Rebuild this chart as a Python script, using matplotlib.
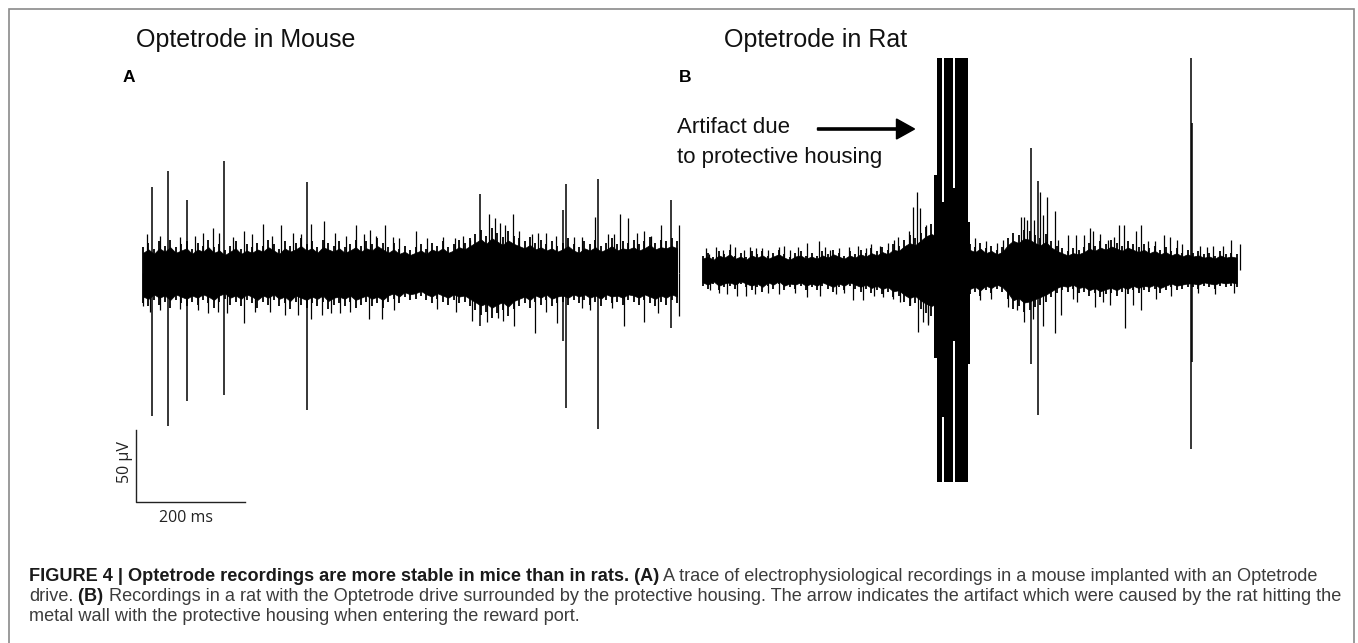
import matplotlib
matplotlib.use("Agg")
import matplotlib.pyplot as plt
from matplotlib.patches import Rectangle, FancyArrow
from matplotlib.transforms import IdentityTransform

W, H = 1358, 643

# ---- Mouse trace (time in ms, amplitude in µV) ----
# edge of the dense noise band, read every 10 ms
mouse_env_t = list(range(0, 990, 10))
mouse_env_hi = [18, 21, 17, 22, 19, 23, 18, 20, 22, 17,
                21, 19, 23, 18, 20, 16, 19, 22, 17, 20,
                18, 21, 19, 23, 20, 17, 22, 19, 21, 24,
                20, 22, 18, 23, 21, 19, 22, 18, 20, 23,
                19, 22, 20, 24, 21, 18, 21, 17, 19, 16,
                18, 20, 17, 21, 19, 22, 18, 20, 23, 21,
                24, 27, 30, 26, 31, 28, 25, 29, 26, 24,
                22, 25, 21, 23, 20, 22, 19, 21, 24, 20,
                18, 22, 20, 23, 19, 21, 24, 20, 22, 21,
                23, 20, 22, 25, 21, 23, 22, 24, 22]
mouse_env_lo = [-21, -23, -19, -22, -20, -24, -19, -21, -23, -20,
                -22, -19, -21, -24, -20, -18, -22, -20, -23, -19,
                -21, -24, -20, -22, -19, -23, -21, -25, -20, -22,
                -24, -21, -23, -20, -25, -22, -21, -23, -20, -24,
                -22, -20, -23, -21, -24, -20, -18, -21, -17, -19,
                -18, -16, -19, -21, -18, -20, -22, -19, -21, -20,
                -23, -26, -29, -27, -31, -28, -26, -30, -25, -23,
                -21, -24, -20, -22, -19, -23, -21, -20, -22, -19,
                -21, -19, -22, -20, -23, -19, -21, -20, -22, -19,
                -20, -22, -19, -21, -23, -20, -22, -19, -21]

mouse_spike_t = [17, 46, 81, 149, 300, 618, 771, 777, 835, 968]
mouse_spike_hi = [60, 71, 51, 78, 63, 55, 44, 62, 65, 51]
mouse_spike_lo = [-99, -106, -89, -85, -95, -37, -47, -94, -108, -38]

mouse_up_t = [31, 67, 129, 140, 185, 221, 254, 309, 333, 391, 417, 444, 470, 501,
              550, 572, 600, 634, 646, 655, 678, 689, 713, 739, 758, 805, 829, 854,
              875, 889, 906, 933, 950, 983, 8, 95, 110, 165, 200, 236, 276, 290,
              352, 372, 405, 428, 458, 522, 588, 665, 725, 790, 865, 920]
mouse_up_v = [26, 25, 31, 28, 29, 34, 33, 34, 36, 33, 30, 33, 24, 29,
              25, 24, 23, 41, 38, 35, 41, 29, 27, 28, 26, 25, 39, 27,
              41, 38, 28, 26, 33, 33, 27, 26, 28, 25, 27, 26, 28, 27,
              28, 26, 27, 26, 25, 24, 26, 33, 28, 25, 27, 29]
mouse_dn_t = [0, 31, 67, 138, 154, 186, 233, 285, 309, 328, 361, 415, 439,
              603, 632, 652, 681, 719, 759, 805, 860, 883, 919, 983,
              12, 100, 120, 205, 260, 345, 380, 460, 540, 575, 660, 740, 820, 945]
mouse_dn_v = [-23, -26, -25, -27, -28, -35, -27, -29, -32, -29, -28, -32, -32,
              -33, -34, -31, -37, -42, -35, -24, -24, -37, -34, -30,
              -27, -26, -28, -27, -29, -28, -27, -26, -25, -27, -33, -27, -26, -28]

# ---- Rat trace (time in ms, amplitude in µV) ----
rat_env_t = list(range(0, 990, 10))
rat_env_hi = [10, 12, 9, 13, 11, 14, 10, 12, 9, 13,
              11, 13, 10, 12, 14, 11, 9, 12, 13, 10,
              12, 10, 13, 11, 14, 12, 10, 13, 11, 14,
              12, 15, 13, 16, 14, 18, 17, 21, 24, 22,
              26, 30, 32, 30, 30, 30, 30, 30, 30, 18,
              16, 19, 15, 17, 14, 16, 22, 26, 24, 28,
              27, 24, 22, 25, 20, 17, 15, 13, 15, 14,
              16, 19, 17, 20, 18, 21, 19, 17, 20, 18,
              16, 18, 15, 17, 14, 16, 13, 15, 12, 14,
              12, 13, 11, 12, 10, 13, 11, 12, 11]
rat_env_lo = [-11, -13, -10, -14, -12, -11, -13, -10, -12, -14,
              -12, -15, -11, -13, -10, -14, -12, -13, -11, -14,
              -12, -14, -11, -13, -15, -12, -14, -11, -13, -15,
              -13, -16, -14, -17, -15, -19, -18, -22, -25, -23,
              -27, -30, -32, -30, -30, -30, -30, -30, -30, -17,
              -15, -18, -14, -16, -13, -15, -20, -27, -25, -29,
              -28, -26, -24, -22, -19, -16, -14, -15, -13, -16,
              -15, -18, -16, -19, -17, -16, -18, -15, -17, -14,
              -16, -14, -15, -13, -16, -14, -12, -14, -13, -12,
              -12, -13, -11, -12, -13, -11, -12, -11, -12]

rat_spike_t = [603, 616, 896, 898]
rat_spike_hi = [85, 62, 147, 102]
rat_spike_lo = [-65, -101, -124, -64]

rat_up_t = [12, 25, 38, 50, 60, 77, 99, 121, 141, 161, 191, 214, 234, 268, 300,
            310, 351, 359, 378, 387, 393, 399, 411, 552, 570, 584, 589, 595, 609,
            620, 625, 633, 646, 653, 671, 685, 711, 717, 730, 744, 765, 774, 795,
            804, 818, 846, 858, 870, 913, 937, 970, 986, 6, 88, 110, 150, 176, 225,
            250, 285, 325, 340, 500, 520, 540, 700, 755, 830, 880, 925, 955]
rat_up_v = [11, 16, 14, 18, 16, 14, 15, 14, 16, 14, 19, 20, 14, 16, 15,
            18, 21, 23, 27, 44, 54, 43, 31, 21, 20, 37, 37, 35, 35,
            54, 38, 51, 41, 21, 24, 24, 29, 27, 25, 21, 31, 31, 27,
            31, 20, 24, 23, 21, 17, 17, 21, 18, 15, 16, 15, 17, 16, 16,
            15, 17, 17, 19, 22, 20, 19, 24, 23, 20, 18, 16, 17]
rat_dn_t = [14, 63, 96, 191, 277, 295, 331, 362, 381, 395, 405, 413, 414,
            577, 607, 625, 646, 658, 687, 720, 747, 775, 790, 804, 833,
            30, 45, 80, 120, 140, 170, 215, 245, 260, 315, 350, 510, 530,
            560, 590, 680, 735, 860, 910, 940, 975]
rat_dn_v = [-14, -18, -17, -19, -21, -21, -19, -22, -24, -43, -36, -38, -37,
            -28, -34, -39, -44, -31, -22, -26, -24, -40, -24, -28, -20,
            -16, -17, -18, -16, -17, -16, -18, -17, -16, -18, -20, -21, -20,
            -26, -36, -20, -22, -18, -16, -17, -16]

# artifact from the protective housing
artifact_start = [430, 444, 463]
artifact_end = [439, 459, 487]
artifact_amp = [147, 147, 147]
artifact_fill_start = [425, 439, 459, 487]
artifact_fill_end = [430, 444, 463, 490]
artifact_fill_hi = [66, 47, 57, 33]
artifact_fill_lo = [-61, -102, -49, -65]

# scale bar
bar_ms = 200
bar_uv = 50

caption_lines = [
    [("FIGURE 4 | Optetrode recordings are more stable in mice than in rats. (A)", "bold"),
     (" A trace of electrophysiological recordings in a mouse implanted with an Optetrode", "normal")],
    [("drive.", "normal"), (" (B)", "bold"),
     (" Recordings in a rat with the Optetrode drive surrounded by the protective housing. "
      "The arrow indicates the artifact which were caused by the rat hitting the", "normal")],
    [("metal wall with the protective housing when entering the reward port.", "normal")],
]

plt.rcParams["font.family"] = ["Liberation Sans", "DejaVu Sans"]
fig = plt.figure(figsize=(W / 100, H / 100), dpi=100)
fig.patch.set_facecolor("white")


def px(x, y):
    return x / W, 1 - y / H


def trace_axes(x0, y0, ms_px, uv_px, box):
    # box in image pixels (left, top, right, bottom); x0/y0 = pixel of t=0, v=0
    l, t, r, b = box
    ax = fig.add_axes([l / W, 1 - b / H, (r - l) / W, (b - t) / H])
    ax.set_xlim((l - x0) / ms_px, (r - x0) / ms_px)
    ax.set_ylim((y0 - b) / uv_px, (y0 - t) / uv_px)
    ax.axis("off")
    ax.patch.set_alpha(0)
    return ax


def draw_trace(ax, env_t, hi, lo, sp_t, sp_hi, sp_lo, up_t, up_v, dn_t, dn_v):
    # solid core of the noise band, then the band edge as thin strokes
    ax.fill_between(env_t, [0.78 * v for v in lo], [0.78 * v for v in hi],
                    color="black", lw=0.5)
    ax.vlines(env_t, lo, hi, color="black", lw=1.3)
    ax.vlines(sp_t, sp_lo, sp_hi, color="black", lw=1.1)
    ax.vlines(up_t, 0, up_v, color="black", lw=0.9)
    ax.vlines(dn_t, dn_v, 0, color="black", lw=0.9)


MS_PX, UV_PX = 0.545, 1.44

ax_m = trace_axes(143, 273, MS_PX, UV_PX, (100, 150, 690, 545))
draw_trace(ax_m, mouse_env_t, mouse_env_hi, mouse_env_lo, mouse_spike_t, mouse_spike_hi,
           mouse_spike_lo, mouse_up_t, mouse_up_v, mouse_dn_t, mouse_dn_v)

# scale bar
sb_x, sb_y = -13, -159
ax_m.plot([sb_x, sb_x, sb_x + bar_ms], [sb_y + bar_uv, sb_y, sb_y], color="#222222", lw=1.0)

ax_r = trace_axes(702.5, 270, MS_PX, UV_PX, (692, 40, 1300, 500))
draw_trace(ax_r, rat_env_t, rat_env_hi, rat_env_lo, rat_spike_t, rat_spike_hi,
           rat_spike_lo, rat_up_t, rat_up_v, rat_dn_t, rat_dn_v)
for s, e, a in zip(artifact_start, artifact_end, artifact_amp):
    ax_r.fill_between([s, e], [-a, -a], [a, a], color="black", lw=0)
for s, e, h, l in zip(artifact_fill_start, artifact_fill_end, artifact_fill_hi, artifact_fill_lo):
    ax_r.fill_between([s, e], [l, l], [h, h], color="black", lw=0)

# titles and panel labels
fig.text(*px(136, 46.7), "Optetrode in Mouse", fontsize=18, color="#111111", va="baseline")
fig.text(*px(724.5, 46.7), "Optetrode in Rat", fontsize=18, color="#111111", va="baseline")
fig.text(*px(123, 81.7), "A", fontsize=12.5, fontweight="bold", va="baseline")
fig.text(*px(679, 81.7), "B", fontsize=12.5, fontweight="bold", va="baseline")
fig.text(*px(677, 133.3), "Artifact due", fontsize=16, color="#111111", va="baseline")
fig.text(*px(677, 163.3), "to protective housing", fontsize=16, color="#111111", va="baseline")
fig.add_artist(FancyArrow(*px(817.5, 129), 97 / W, 0, width=2.2 / H,
                          head_width=20 / H, head_length=18 / W,
                          length_includes_head=True, color="black",
                          transform=fig.transFigure))

fig.text(*px(125, 462), "50 µV", fontsize=11.5, rotation=90, ha="center", va="center",
         family=["Open Sans", "DejaVu Sans"], color="#222222")
fig.text(*px(186, 518), "200 ms", fontsize=11.5, ha="center", va="center",
         family=["Open Sans", "DejaVu Sans"], color="#222222")

# outer frame (bottom edge runs off the image)
fig.add_artist(Rectangle(px(8.5, 660), (1354 - 8.5) / W, (660 - 9) / H, fill=False,
                         edgecolor="#8a8a8a", lw=1.2, transform=fig.transFigure))

# caption with mixed bold / regular runs
fig.canvas.draw()
renderer = fig.canvas.get_renderer()
baselines = [581, 601, 621]
for line, base in zip(caption_lines, baselines):
    x = 29
    for text, weight in line:
        t = fig.text(x, H - base, text, fontsize=13.05, fontweight=weight,
                     color="#1a1a1a" if weight == "bold" else "#3c3c3c",
                     va="baseline", transform=IdentityTransform())
        x += t.get_window_extent(renderer).width

fig.savefig("out.png", dpi=100, facecolor="white")
